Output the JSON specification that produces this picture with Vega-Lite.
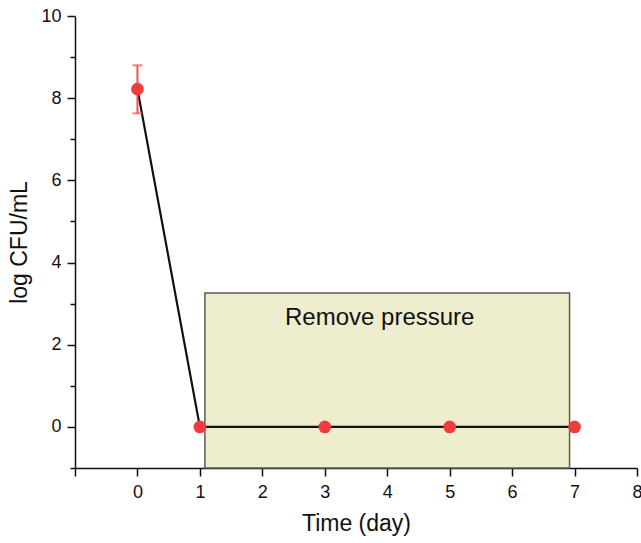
{
  "$schema": "https://vega.github.io/schema/vega-lite/v6.json",
  "width": 562,
  "height": 452,
  "autosize": {"type": "none"},
  "padding": {"left": 75, "top": 16, "right": 4, "bottom": 75},
  "background": "white",
  "config": {
    "view": {"stroke": null},
    "font": "Liberation Sans",
    "axis": {
      "domainColor": "#111",
      "domainWidth": 1.5,
      "tickColor": "#111",
      "tickWidth": 1.5,
      "grid": false,
      "labelColor": "#111",
      "titleColor": "#111",
      "labelFont": "Liberation Sans",
      "titleFont": "Liberation Sans",
      "labelFontSize": 18,
      "titleFontSize": 23,
      "titleFontWeight": "normal",
      "labelOverlap": false,
      "labelFlush": false,
      "format": "d"
    }
  },
  "datasets": {
    "pts": [
      {"day": 0, "cfu": 8.22, "lo": 7.63, "hi": 8.8},
      {"day": 1, "cfu": 0},
      {"day": 3, "cfu": 0},
      {"day": 5, "cfu": 0},
      {"day": 7, "cfu": 0}
    ],
    "box": [{"x1": 1.08, "x2": 6.92, "y1": -1, "y2": 3.26}],
    "note": [{"x": 3.88, "y": 2.65, "label": "Remove pressure"}]
  },
  "layer": [
    {
      "data": {"name": "box"},
      "mark": {"type": "rect", "fill": "#eeeecf", "stroke": "#5a5a5a", "strokeWidth": 1.5},
      "encoding": {
        "x": {
          "field": "x1", "type": "quantitative",
          "scale": {"domain": [-1, 8], "nice": false, "zero": false},
          "axis": {
            "title": "Time (day)",
            "titlePadding": 11,
            "values": [-1, -0.5, 0, 0.5, 1, 1.5, 2, 2.5, 3, 3.5, 4, 4.5, 5, 5.5, 6, 6.5, 7, 7.5, 8],
            "labelExpr": "(datum.value % 1 === 0 && datum.value >= 0) ? format(datum.value, 'd') : ''",
            "tickSize": {"condition": {"test": "datum.value % 1 !== 0", "value": 5}, "value": 8},
            "labelPadding": 7
          }
        },
        "x2": {"field": "x2"},
        "y": {
          "field": "y1", "type": "quantitative",
          "title": "log CFU/mL",
          "scale": {"domain": [-1, 10], "nice": false, "zero": false},
          "axis": {
            "title": "log CFU/mL",
            "titlePadding": 9,
            "values": [-1, 0, 1, 2, 3, 4, 5, 6, 7, 8, 9, 10],
            "labelExpr": "(datum.value % 2 === 0 && datum.value >= 0) ? format(datum.value, 'd') : ''",
            "tickSize": {"condition": {"test": "datum.value % 2 !== 0", "value": 5}, "value": 8},
            "labelPadding": 6
          }
        },
        "y2": {"field": "y2"}
      }
    },
    {
      "data": {"name": "pts"},
      "mark": {"type": "line", "color": "#111", "strokeWidth": 2.2},
      "encoding": {
        "x": {"field": "day", "type": "quantitative", "title": "Time (day)"},
        "y": {"field": "cfu", "type": "quantitative", "title": "log CFU/mL"}
      }
    },
    {
      "data": {"name": "pts"},
      "transform": [{"filter": "isValid(datum.lo)"}],
      "mark": {"type": "errorbar", "ticks": {"size": 10, "thickness": 2}, "rule": {"strokeWidth": 2}, "color": "#e85356"},
      "encoding": {
        "x": {"field": "day", "type": "quantitative", "title": "Time (day)"},
        "y": {"field": "lo", "type": "quantitative", "title": "log CFU/mL"},
        "y2": {"field": "hi"}
      }
    },
    {
      "data": {"name": "pts"},
      "mark": {"type": "circle", "color": "#f23c3c", "opacity": 1, "size": 160},
      "encoding": {
        "x": {"field": "day", "type": "quantitative", "title": "Time (day)"},
        "y": {"field": "cfu", "type": "quantitative", "title": "log CFU/mL"}
      }
    },
    {
      "data": {"name": "note"},
      "mark": {"type": "text", "fontSize": 24, "color": "#111", "font": "Liberation Sans", "align": "center", "baseline": "middle"},
      "encoding": {
        "x": {"field": "x", "type": "quantitative", "title": "Time (day)"},
        "y": {"field": "y", "type": "quantitative", "title": "log CFU/mL"},
        "text": {"field": "label"}
      }
    }
  ]
}
